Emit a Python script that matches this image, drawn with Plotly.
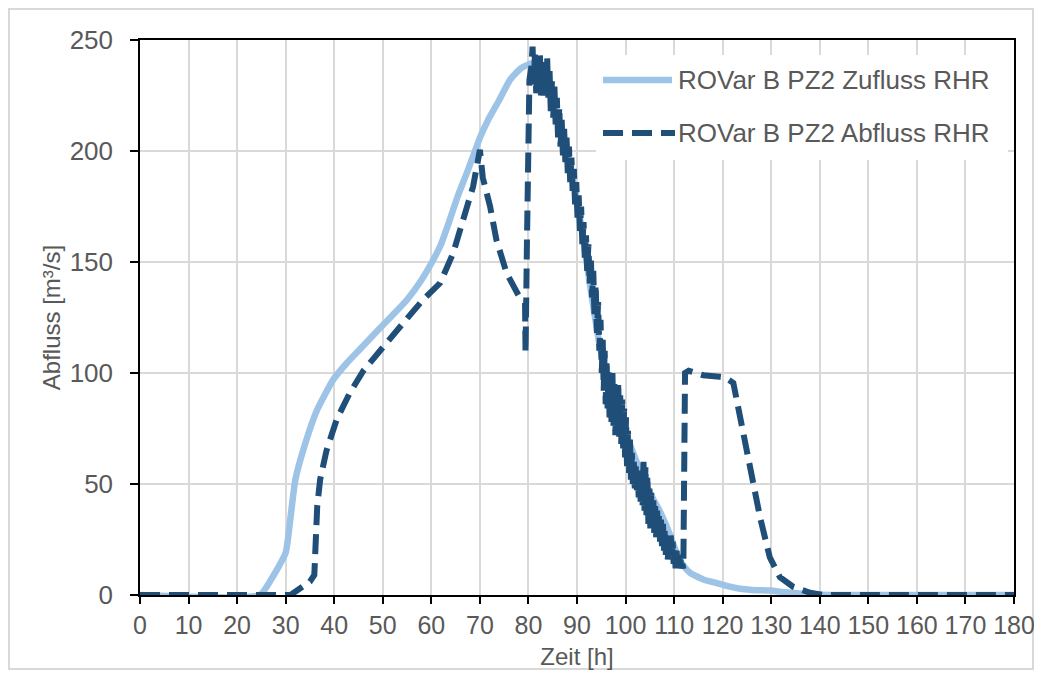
import plotly.graph_objects as go

# ---------------- data ----------------
zufluss_t = [0, 24.7, 27, 30, 31, 32, 34, 36.4, 39.8, 42.6, 45, 48.7, 52, 55, 58, 60.4,
             62, 63.8, 65.5, 67.3, 69, 70, 71.7, 74, 76.2, 78.3, 80, 81, 82, 84, 86, 88,
             90, 91.3, 93, 94.7, 96, 98, 100.2, 103, 105, 107, 109, 110.5, 112, 113.3,
             116, 119.4, 121, 123.6, 126, 129.7, 133, 137, 142, 180]
zufluss_q = [0, 0, 7, 19, 35, 52, 68, 83, 97, 104.5, 110, 118.6, 126, 133, 142, 151,
             158, 169, 180, 190, 200, 206, 214, 223, 232, 237, 239, 239.5, 236, 228, 215, 198,
             178, 160, 135, 112, 100, 86, 72, 56, 46, 38, 28, 19, 13, 10,
             7, 5, 4, 2.8, 2.3, 2, 1.2, 0.5, 0, 0]

# outflow: rising limb up to the first drop
abfluss_t_rise = [0, 31, 33, 35, 35.9, 36.2, 36.5, 37.1, 38.4, 40.5, 43.2, 46, 50, 54.2,
                  58.3, 61.8, 64.5, 66.5, 68.6, 70, 70.6, 72.1, 73.4, 75.5, 78.2, 79.3,
                  79.4, 79.7, 80.2]
abfluss_q_rise = [0, 0, 3, 6, 9, 25, 40, 52, 65, 79, 91, 101, 112, 122.5,
                  133, 140.5, 154, 169, 184, 200.5, 188, 175, 160, 145, 134, 131.5,
                  109, 160, 232]
# outflow: fluctuating peak 80.6 h - 88 h
abfluss_t_peak = [80.6, 80.85, 81.1, 81.35, 81.6, 81.85, 82.1, 82.35, 82.6, 82.85,
                  83.1, 83.35, 83.6, 83.85, 84.1, 84.35, 84.6, 84.85, 85.1, 85.35,
                  85.6, 85.85, 86.1, 86.35, 86.6, 86.85, 87.1, 87.35, 87.6, 87.85]
abfluss_q_peak = [238, 247, 230, 245, 226, 243, 228, 244, 225, 240,
                  224, 238, 226, 242, 224, 236, 218, 232, 215, 229,
                  212, 224, 206, 220, 202, 214, 198, 210, 195, 206]
# outflow: fluctuating falling limb 88 h - 95 h
abfluss_t_fall = [88.1, 88.35, 88.6, 88.85, 89.1, 89.35, 89.6, 89.85, 90.1, 90.35,
                  90.6, 90.85, 91.1, 91.35, 91.6, 91.85, 92.1, 92.35, 92.6, 92.85,
                  93.1, 93.35, 93.6, 93.85, 94.1, 94.35, 94.6, 94.85]
abfluss_q_fall = [190, 202, 186, 197, 182, 192, 176, 186, 170, 180,
                  164, 175, 158, 168, 152, 162, 146, 158, 140, 152,
                  134, 146, 126, 140, 118, 132, 110, 124]
# outflow: fluctuating tail 95 h - 112 h
abfluss_t_tail = [95.1, 95.3, 95.5, 95.7, 95.9, 96.1, 96.3, 96.5, 96.7, 96.9,
                  97.1, 97.3, 97.5, 97.7, 97.9, 98.1, 98.3, 98.5, 98.7, 98.9,
                  99.1, 99.3, 99.5, 99.7, 99.9, 100.1, 100.3, 100.5, 100.7, 100.9,
                  101.1, 101.3, 101.5, 101.7, 101.9, 102.1, 102.3, 102.5, 102.7, 102.9,
                  103.1, 103.3, 103.5, 103.7, 103.9, 104.1, 104.3, 104.5, 104.7, 104.9,
                  105.1, 105.3, 105.5, 105.7, 105.9, 106.1, 106.3, 106.5, 106.7, 106.9,
                  107.1, 107.3, 107.5, 107.7, 107.9, 108.1, 108.3, 108.5, 108.7, 108.9,
                  109.1, 109.3, 109.5, 109.7, 109.9, 110.1, 110.3, 110.5, 110.7, 110.9,
                  111.1, 111.3, 111.5, 111.7, 111.9]
abfluss_q_tail = [100, 115, 92, 110, 86, 106, 84, 102, 80, 98,
                  78, 100, 76, 95, 72, 92, 74, 96, 70, 90,
                  68, 88, 66, 84, 62, 80, 58, 74, 55, 70,
                  52, 64, 50, 60, 48, 58, 46, 56, 44, 54,
                  42, 52, 40, 60, 38, 58, 36, 54, 32, 50,
                  30, 46, 30, 44, 28, 40, 26, 38, 26, 36,
                  24, 34, 22, 32, 20, 30, 18, 26, 16, 24,
                  18, 28, 16, 24, 14, 22, 12, 20, 12, 18,
                  12, 16, 12, 14, 12]
# outflow: second release and recession
abfluss_t_end = [112.1, 112.25, 113, 116, 119.4, 120.5, 122.2, 123.6, 124.9, 126.3,
                 127.7, 129.7, 131.8, 134.5, 138, 141, 180]
abfluss_q_end = [40, 100, 101, 99, 98.3, 98, 95.5, 80, 65, 50,
                 35, 17, 8, 3.7, 1, 0, 0]

abfluss_t = abfluss_t_rise + abfluss_t_peak + abfluss_t_fall + abfluss_t_tail + abfluss_t_end
abfluss_q = abfluss_q_rise + abfluss_q_peak + abfluss_q_fall + abfluss_q_tail + abfluss_q_end

x_ticks = list(range(0, 181, 10))
y_ticks = [0, 50, 100, 150, 200, 250]
name_in = "ROVar B PZ2 Zufluss RHR"
name_out = "ROVar B PZ2 Abfluss RHR"
x_title = "Zeit [h]"
y_title = "Abfluss [m³/s]"

# ---------------- style ----------------
C_IN = "#9DC3E6"
C_OUT = "#1F4E79"
GRID = "#D9D9D9"
TXT = "#595959"
FONT = "Liberation Sans, Arial, sans-serif"
DASH = "20px,9px"

OFF = 8  # page body margin (the figure is placed 8 px in from the window edge)
W, H = 1042 - 2 * OFF, 678 - 2 * OFF          # fits the window without overflow
# plot area in window pixels: x 140..1014, y 40..595
L, T = 140 - OFF, 40 - OFF
R, B = (W + OFF) - 1014, (H + OFF) - 595
pw, ph = W - L - R, H - T - B


def px_x(p):
    return (p - OFF - L) / pw


def px_y(p):
    return (H - B - (p - OFF)) / ph


fig = go.Figure()
fig.add_trace(go.Scatter(x=zufluss_t, y=zufluss_q, mode="lines", name=name_in,
                         line=dict(color=C_IN, width=6.5, shape="spline", smoothing=0.5),
                         showlegend=False))
fig.add_trace(go.Scatter(x=abfluss_t, y=abfluss_q, mode="lines", name=name_out,
                         line=dict(color=C_OUT, width=6, dash=DASH),
                         showlegend=False))

shapes = [
    dict(type="rect", xref="paper", yref="paper", x0=px_x(OFF + 1), x1=px_x(W + OFF - 1),
         y0=px_y(H + OFF - 1), y1=px_y(OFF + 1), line=dict(color=GRID, width=2),
         layer="below"),
    dict(type="rect", xref="paper", yref="paper", x0=px_x(596), x1=px_x(1008),
         y0=px_y(160), y1=px_y(55), line=dict(width=0), fillcolor="white", layer="above"),
    dict(type="line", xref="paper", yref="paper", x0=px_x(603), x1=px_x(672),
         y0=px_y(80), y1=px_y(80), line=dict(color=C_IN, width=6.5), layer="above"),
    dict(type="line", xref="paper", yref="paper", x0=px_x(603), x1=px_x(675),
         y0=px_y(133), y1=px_y(133), line=dict(color=C_OUT, width=6, dash=DASH),
         layer="above"),
]
annotations = [
    dict(xref="paper", yref="paper", x=px_x(676), y=px_y(80), text=name_in,
         showarrow=False, xanchor="left", yanchor="middle",
         font=dict(family=FONT, size=26, color=TXT)),
    dict(xref="paper", yref="paper", x=px_x(676), y=px_y(133), text=name_out,
         showarrow=False, xanchor="left", yanchor="middle",
         font=dict(family=FONT, size=26, color=TXT)),
]

fig.update_layout(
    width=W, height=H,
    margin=dict(l=L, r=R, t=T, b=B, pad=0, autoexpand=False),
    paper_bgcolor="white", plot_bgcolor="white",
    font=dict(family=FONT, size=25, color=TXT),
    shapes=shapes, annotations=annotations,
    showlegend=False,
)
fig.update_xaxes(range=[0, 180], tickvals=x_ticks, ticktext=[str(v) for v in x_ticks],
                 automargin=False, ticklabeloverflow="allow",
                 showgrid=True, gridcolor=GRID, gridwidth=1.5,
                 showline=True, linecolor="black", linewidth=1.5, mirror=True,
                 ticks="outside", ticklen=7, tickwidth=1.5, tickcolor="black",
                 zeroline=False, tickfont=dict(size=25, color=TXT),
                 title=dict(text=x_title, font=dict(size=24, color=TXT), standoff=12))
fig.update_yaxes(range=[0, 250], tickvals=y_ticks,
                 automargin=False,
                 showgrid=True, gridcolor=GRID, gridwidth=1.5,
                 showline=True, linecolor="black", linewidth=1.5, mirror=True,
                 ticks="outside", ticklen=8, tickwidth=1.5, tickcolor="black",
                 ticklabelstandoff=12,
                 zeroline=False, tickfont=dict(size=26, color=TXT),
                 title=dict(text=y_title, font=dict(size=24, color=TXT), standoff=2))

fig.write_html("out.html")
